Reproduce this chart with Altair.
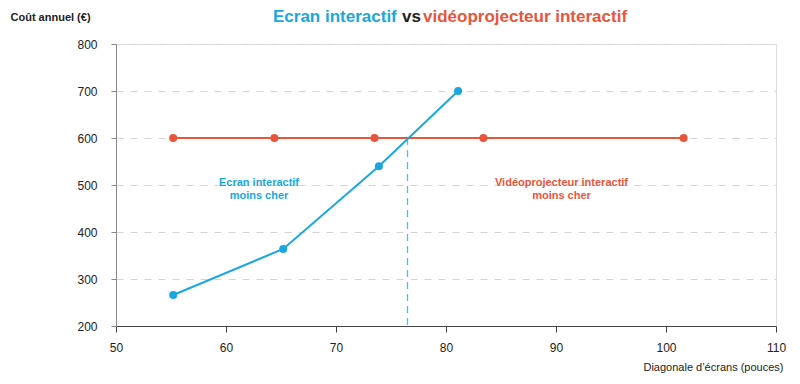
import altair as alt
import pandas as pd

# Data
ecran_x = [55.2, 65.2, 73.9, 81.1]
ecran_y = [266, 364, 540, 700]
video_x = [55.2, 64.4, 73.5, 83.4, 101.6]
video_y = [600, 600, 600, 600, 600]
cross_x = [76.5, 76.5]
cross_y = [600, 200]

BLUE = "#1aa7e0"
ORANGE = "#e9553b"
FONT = "Liberation Sans"

ecran = pd.DataFrame({"x": ecran_x, "y": ecran_y})
video = pd.DataFrame({"x": video_x, "y": video_y})
cross = pd.DataFrame({"x": cross_x, "y": cross_y})

labels = pd.DataFrame({
    "x": [63.0, 90.5],
    "y": [505, 505],
    "text": [["Ecran interactif", "moins cher"], ["Vidéoprojecteur interactif", "moins cher"]],
    "c": ["e", "v"],
})

xscale = alt.Scale(domain=[50, 110], nice=False, zero=False)
yscale = alt.Scale(domain=[200, 800], nice=False, zero=False)

xaxis = alt.Axis(values=[50, 60, 70, 80, 90, 100, 110], grid=False, labelFlush=False,
                 domainColor="#444", tickColor="#444", tickSize=6, tickWidth=1, domainWidth=1,
                 labelFont=FONT, labelFontSize=12, labelColor="#222", labelPadding=10,
                 title="Diagonale d’écrans (pouces)", titleFont=FONT, titleFontSize=11,
                 titleFontWeight="normal", titleColor="#222",
                 titleAlign="right", titleAnchor="end", titleX=667, titleY=41, titleBaseline="middle")
yaxis = alt.Axis(values=[200, 300, 400, 500, 600, 700, 800], grid=True, labelFlush=False,
                 gridDash=[7, 7], gridColor="#d4d4d4", domainColor="#888", tickColor="#888",
                 tickSize=5, labelFont=FONT, labelFontSize=12, labelColor="#222", labelPadding=14,
                 title="Coût annuel (€)", titleFont=FONT, titleFontSize=11, titleFontWeight="bold",
                 titleColor="#222", titleAngle=0, titleAlign="left", titleX=-106, titleY=-27,
                 titleBaseline="middle")

base_v = alt.Chart(video).encode(x=alt.X("x:Q", scale=xscale, axis=xaxis),
                                 y=alt.Y("y:Q", scale=yscale, axis=yaxis))
v_line = base_v.mark_line(color=ORANGE, strokeWidth=2)
v_pts = base_v.mark_circle(color=ORANGE, size=64, opacity=1)

base_e = alt.Chart(ecran).encode(x=alt.X("x:Q", scale=xscale), y=alt.Y("y:Q", scale=yscale))
e_line = base_e.mark_line(color=BLUE, strokeWidth=2)
e_pts = base_e.mark_circle(color=BLUE, size=64, opacity=1)

c_line = alt.Chart(cross).mark_line(stroke="#4fbde8", strokeDash=[7, 5], strokeWidth=1.3).encode(
    x=alt.X("x:Q", scale=xscale), y=alt.Y("y:Q", scale=yscale))

ann = alt.Chart(labels).mark_text(font=FONT, fontSize=11, fontWeight="bold", lineHeight=13,
                                  baseline="middle", align="center").encode(
    x=alt.X("x:Q", scale=xscale), y=alt.Y("y:Q", scale=yscale), text="text",
    color=alt.Color("c:N", scale=alt.Scale(domain=["e", "v"], range=[BLUE, ORANGE]), legend=None))

title_parts = []
for txt, col, px in [("Ecran interactif", BLUE, 157), ("vs", "#222", 286), ("vidéoprojecteur interactif", ORANGE, 307)]:
    title_parts.append(
        alt.Chart(pd.DataFrame({"t": [txt]})).mark_text(
            font=FONT, fontSize=17, fontWeight="bold", color=col, align="left", baseline="middle"
        ).encode(text="t:N", x=alt.value(px), y=alt.value(-27))
    )

chart = alt.layer(c_line, v_line, e_line, v_pts, e_pts, ann, *title_parts).properties(
    width=660, height=282,
    autosize=alt.AutoSizeParams(type="none"),
    padding={"left": 108, "top": 36, "right": 16, "bottom": 50},
).configure_view(stroke=None).configure(background="white")

chart.save("out.html", embed_options={"renderer": "svg", "actions": False})
